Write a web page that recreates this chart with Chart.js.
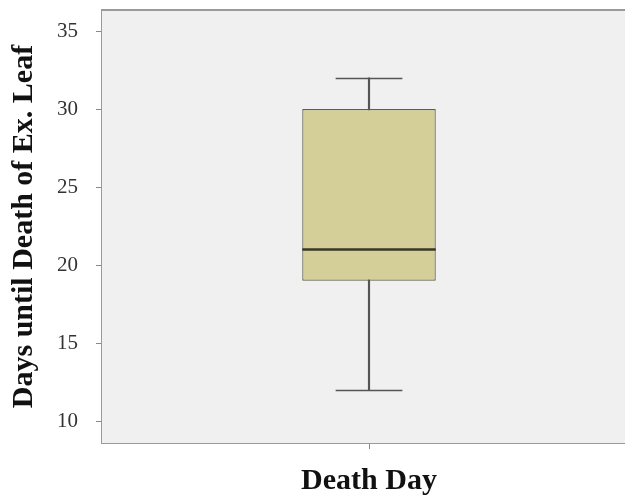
<!DOCTYPE html>
<html>
<head>
<meta charset="utf-8">
<script src="https://cdn.jsdelivr.net/npm/chart.js@4"></script>
<style>
  html, body { margin: 0; padding: 0; background: #ffffff; overflow: hidden; }
</style>
</head>
<body>
<canvas id="graph" width="636" height="496"></canvas>
<script>
// box plot summary
var categories = ['Death Day'];
var whiskerLow = [12];
var quartile1 = [19];
var medians = [21];
var quartile3 = [30];
var whiskerHigh = [32];
var yTicks = [10, 15, 20, 25, 30, 35];

var boxData = categories.map(function (c, i) { return [quartile1[i], quartile3[i]]; });
var stemData = categories.map(function (c, i) { return [whiskerLow[i], whiskerHigh[i]]; });

// plot background, top frame line, whisker caps and median line
var boxPlotExtras = {
    id: 'boxPlotExtras',
    beforeDatasetsDraw: function (chart) {
        var a = chart.chartArea;
        var c = chart.ctx;
        c.save();
        c.fillStyle = '#f0f0f0';
        c.fillRect(a.left, a.top, a.right - a.left, a.bottom - a.top);
        c.strokeStyle = '#9a9a9a';
        c.lineWidth = 2;
        c.beginPath();
        c.moveTo(a.left, a.top);
        c.lineTo(a.right, a.top);
        c.stroke();
        c.restore();
    },
    afterDatasetsDraw: function (chart) {
        var c = chart.ctx;
        var y = chart.scales.y;
        var bars = chart.getDatasetMeta(1).data;
        c.save();
        bars.forEach(function (bar, i) {
            var half = bar.width / 4;
            c.strokeStyle = '#555555';
            c.lineWidth = 1.5;
            [whiskerLow[i], whiskerHigh[i]].forEach(function (v) {
                var py = Math.round(y.getPixelForValue(v)) + 0.5;
                c.beginPath();
                c.moveTo(bar.x - half, py);
                c.lineTo(bar.x + half, py);
                c.stroke();
            });
            var my = y.getPixelForValue(medians[i]);
            c.strokeStyle = '#3a3826';
            c.lineWidth = 2.5;
            c.beginPath();
            c.moveTo(bar.x - bar.width / 2, my);
            c.lineTo(bar.x + bar.width / 2, my);
            c.stroke();
        });
        c.restore();
    }
};

var ctx = document.getElementById('graph').getContext('2d');
var myChart = new Chart(ctx, {
    type: 'bar',
    data: {
        labels: categories,
        datasets: [{
            label: 'whisker',
            data: stemData,
            grouped: false,
            barThickness: 1.5,
            backgroundColor: '#555555',
            borderWidth: 0,
            order: 2
        }, {
            label: 'box',
            data: boxData,
            grouped: false,
            categoryPercentage: 1,
            barPercentage: 0.25,
            backgroundColor: '#d4cf98',
            borderColor: '#5e5c4c',
            borderWidth: 1.2,
            borderSkipped: false,
            order: 1
        }]
    },
    options: {
        responsive: false,
        animation: false,
        layout: {
            padding: { top: 10, left: 0, right: 0, bottom: 0 }
        },
        plugins: {
            legend: { display: false },
            tooltip: { enabled: false }
        },
        scales: {
            x: {
                offset: true,
                grid: {
                    display: true,
                    offset: false,
                    drawOnChartArea: false,
                    tickLength: 6,
                    color: '#888888'
                },
                border: { color: '#9a9a9a', width: 2 },
                ticks: { display: false },
                title: {
                    display: true,
                    text: 'Death Day',
                    color: '#111111',
                    font: { family: 'Liberation Serif', size: 30, weight: 'bold' },
                    padding: { top: 14, bottom: -3 }
                }
            },
            y: {
                min: 8.6,
                max: 36.35,
                afterBuildTicks: function (scale) {
                    scale.ticks = yTicks.map(function (v) { return { value: v }; });
                },
                afterFit: function (scale) {
                    // tick labels sit well inside the range, no extra room needed
                    scale.paddingTop = 0;
                    scale.paddingBottom = 0;
                },
                grid: {
                    display: true,
                    drawOnChartArea: false,
                    tickLength: 6,
                    color: '#888888'
                },
                border: { color: '#9a9a9a', width: 2 },
                ticks: {
                    color: '#333333',
                    padding: 18,
                    font: { family: 'Liberation Serif', size: 21 }
                },
                title: {
                    display: true,
                    text: 'Days until Death of Ex. Leaf',
                    color: '#111111',
                    font: { family: 'Liberation Serif', size: 30, weight: 'bold', lineHeight: 1 },
                    padding: { top: 9, bottom: 0 }
                }
            }
        }
    },
    plugins: [boxPlotExtras]
});
</script>
</body>
</html>
